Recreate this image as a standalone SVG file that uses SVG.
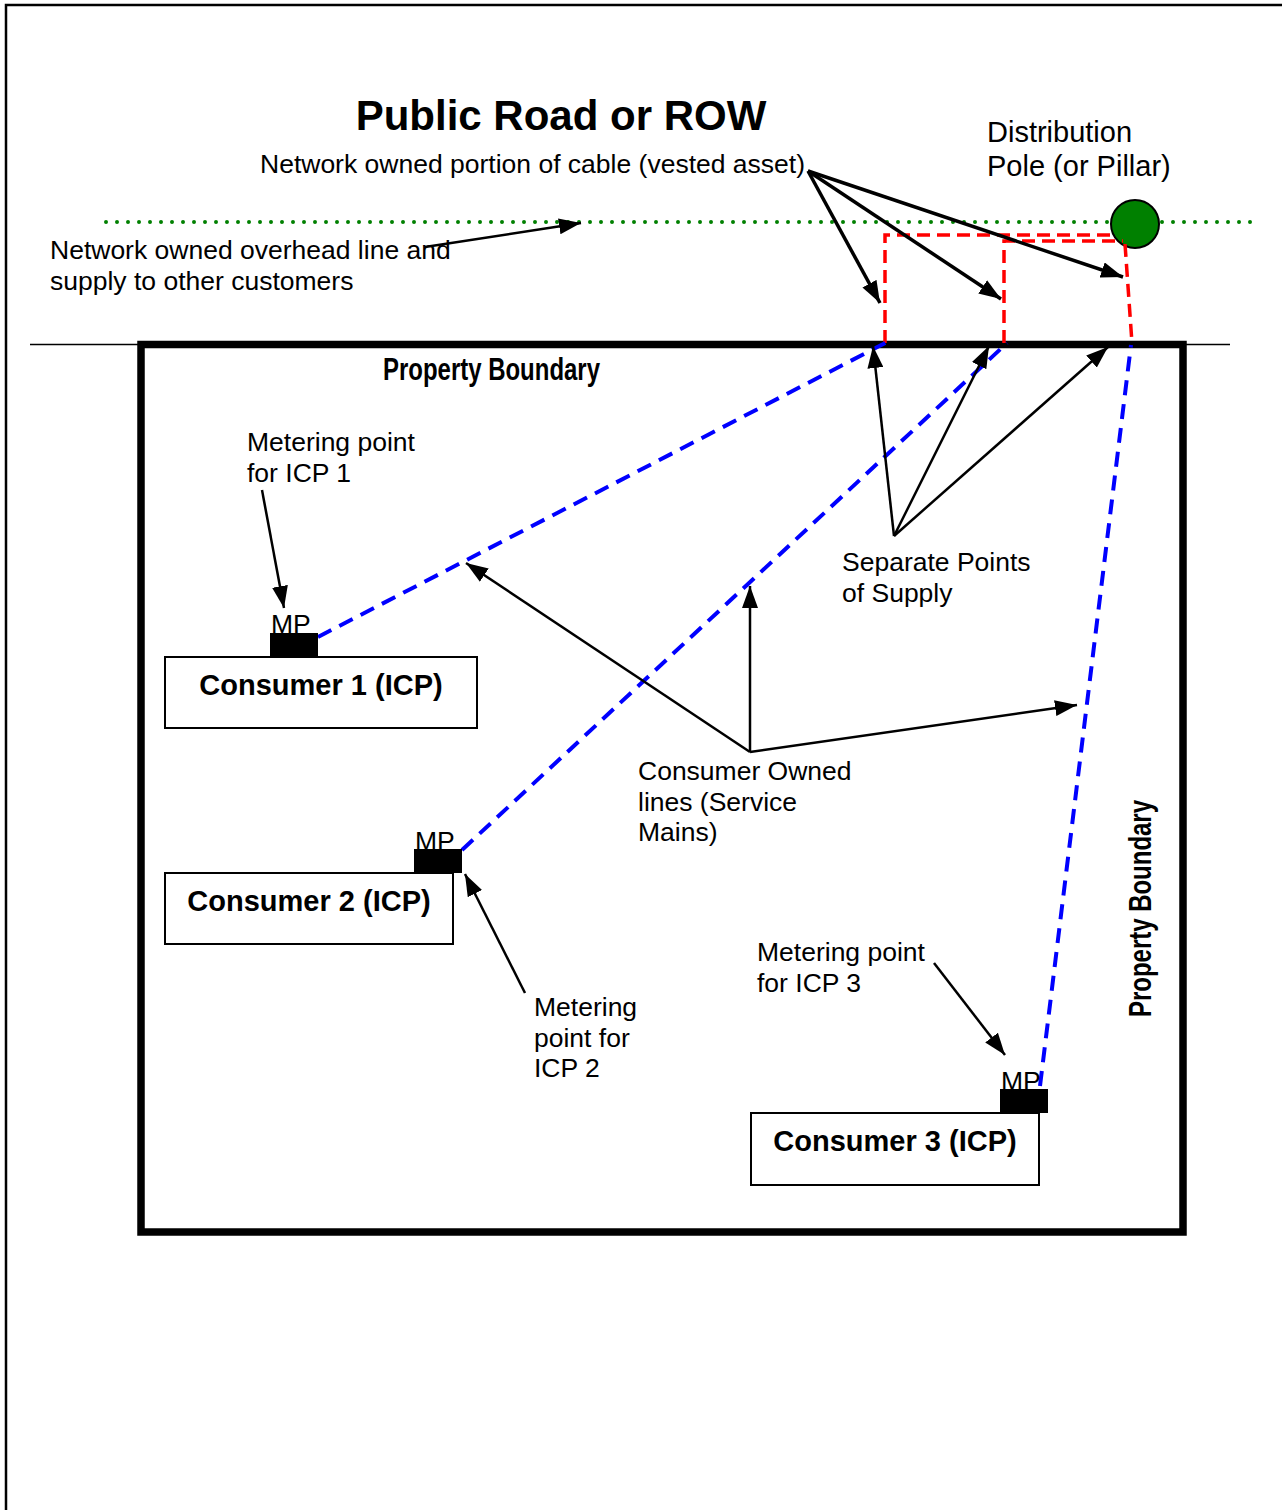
<svg xmlns="http://www.w3.org/2000/svg" width="1282" height="1510" viewBox="0 0 1282 1510">
  <style>
    text { font-family: "Liberation Sans", Arial, sans-serif; fill: #000; }
    .lbl { font-size: 26.5px; }
    .big { font-size: 29px; }
    .cons { font-size: 29px; font-weight: bold; text-anchor: middle; }
    .title { font-size: 42px; font-weight: bold; text-anchor: middle; }
    .pb { font-size: 31px; font-weight: bold; }
    .box { fill: #fff; stroke: #000; stroke-width: 2; }
    .meter { fill: #000; }
    .arrow { fill: none; stroke: #000; stroke-width: 2.5; marker-end: url(#head); }
    .arrowThick { fill: none; stroke: #000; stroke-width: 3.5; marker-end: url(#head); }
    .red { fill: none; stroke: #ff0000; stroke-width: 3.5; stroke-dasharray: 13 7; }
    .blue { fill: none; stroke: #0000ff; stroke-width: 4; stroke-dasharray: 15 9; }
  </style>
  <defs>
    <marker id="head" markerUnits="userSpaceOnUse" markerWidth="24" markerHeight="16" refX="22" refY="8" orient="auto">
      <path d="M0,0 L22,8 L0,16 Z" fill="#000"/>
    </marker>
  </defs>

  <rect width="1282" height="1510" fill="#fff"/>

  <!-- page frame -->
  <path d="M6,1510 V5 H1282" fill="none" stroke="#000" stroke-width="2.5"/>

  <!-- road: overhead line, title -->
  <g id="road">
    <text class="title" x="561" y="130">Public Road or ROW</text>
    <line x1="106" y1="222" x2="1258" y2="222" stroke="#008000" stroke-width="4" stroke-linecap="round" stroke-dasharray="0 11"/>
  </g>

  <g id="pole">
    <circle cx="1135" cy="224" r="24" fill="#008000" stroke="#000" stroke-width="2"/>
    <text class="big" x="987" y="142">Distribution</text>
    <text class="big" x="987" y="176">Pole (or Pillar)</text>
  </g>

  <!-- property -->
  <g id="property">
    <line x1="30" y1="344.5" x2="1230" y2="344.5" stroke="#000" stroke-width="1.5"/>
    <rect x="141" y="344.5" width="1042" height="887.5" fill="none" stroke="#000" stroke-width="7.5"/>
    <text class="pb" x="383" y="380" textLength="217" lengthAdjust="spacingAndGlyphs">Property Boundary</text>
    <text class="pb" transform="translate(1151,1017) rotate(-90)" x="0" y="0" textLength="217" lengthAdjust="spacingAndGlyphs">Property Boundary</text>
  </g>

  <!-- network owned cable portions (red) and consumer service mains (blue) -->
  <g id="cables">
    <path class="red" d="M885,343 V235 H1117"/>
    <path class="red" d="M1004,343 V241 H1123"/>
    <path class="red" d="M1125,244 L1132,343"/>
    <path class="blue" d="M318,637 L889,341"/>
    <path class="blue" d="M462,850 L1007,343"/>
    <path class="blue" d="M1040,1086 L1131,345"/>
  </g>

  <g id="consumer1">
    <rect class="box" x="165" y="657" width="312" height="71"/>
    <text class="cons" x="321" y="695">Consumer 1 (ICP)</text>
    <text class="lbl" x="271" y="633">MP</text>
    <rect class="meter" x="270" y="633" width="48" height="24"/>
  </g>

  <g id="consumer2">
    <rect class="box" x="165" y="873" width="288" height="71"/>
    <text class="cons" x="309" y="911">Consumer 2 (ICP)</text>
    <text class="lbl" x="415" y="850">MP</text>
    <rect class="meter" x="414" y="849" width="48" height="24"/>
  </g>

  <g id="consumer3">
    <rect class="box" x="751" y="1113" width="288" height="72"/>
    <text class="cons" x="895" y="1151">Consumer 3 (ICP)</text>
    <text class="lbl" x="1001" y="1090">MP</text>
    <rect class="meter" x="1000" y="1089" width="48" height="24"/>
  </g>

  <!-- labels -->
  <g id="label-vested">
    <text class="lbl" x="260" y="173">Network owned portion of cable (vested asset)</text>
  </g>
  <g id="label-overhead">
    <text class="lbl" x="50" y="259">Network owned overhead line and</text>
    <text class="lbl" x="50" y="290">supply to other customers</text>
  </g>
  <g id="label-mp1">
    <text class="lbl" x="247" y="451">Metering point</text>
    <text class="lbl" x="247" y="482">for ICP 1</text>
  </g>
  <g id="label-mp2">
    <text class="lbl" x="534" y="1016">Metering</text>
    <text class="lbl" x="534" y="1047">point for</text>
    <text class="lbl" x="534" y="1077">ICP 2</text>
  </g>
  <g id="label-mp3">
    <text class="lbl" x="757" y="961">Metering point</text>
    <text class="lbl" x="757" y="992">for ICP 3</text>
  </g>
  <g id="label-supply">
    <text class="lbl" x="842" y="571">Separate Points</text>
    <text class="lbl" x="842" y="602">of Supply</text>
  </g>
  <g id="label-service">
    <text class="lbl" x="638" y="780">Consumer Owned</text>
    <text class="lbl" x="638" y="811">lines (Service</text>
    <text class="lbl" x="638" y="841">Mains)</text>
  </g>

  <!-- leader arrows -->
  <g id="connectors">
    <path class="arrowThick" d="M808,171 L880,303"/>
    <path class="arrowThick" d="M808,171 L1001,299"/>
    <path class="arrowThick" d="M808,171 L1123,277"/>
    <path class="arrow" d="M425,247 L581,223"/>
    <path class="arrow" d="M262,490 L284,608"/>
    <path class="arrow" d="M525,993 L465,874"/>
    <path class="arrow" d="M934,963 L1005,1055"/>
    <path class="arrow" d="M894,536 L873,346"/>
    <path class="arrow" d="M894,536 L989,346"/>
    <path class="arrow" d="M894,536 L1108,347"/>
    <path class="arrow" d="M750,752 L466,563"/>
    <path class="arrow" d="M750,752 L750,586"/>
    <path class="arrow" d="M750,752 L1077,705"/>
  </g>
</svg>
